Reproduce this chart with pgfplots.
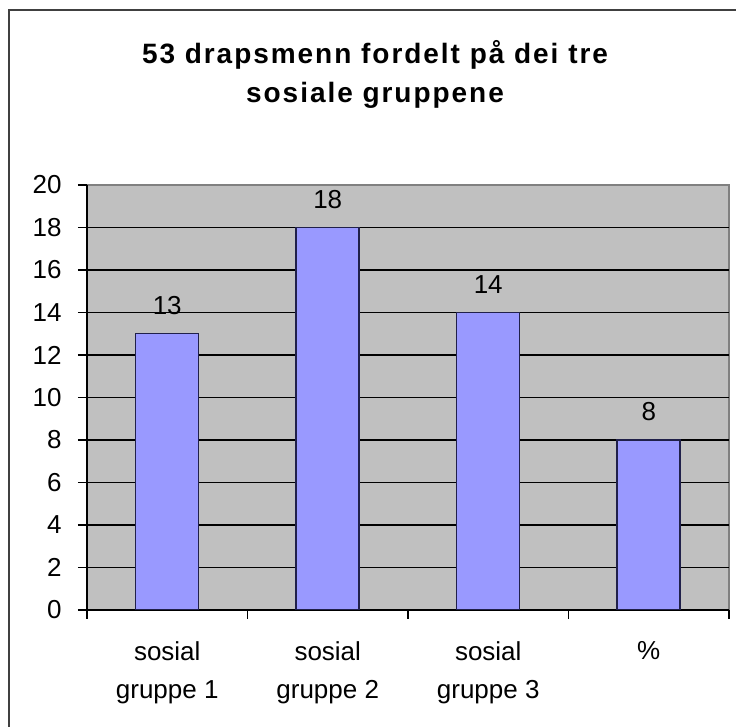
\documentclass[border=0pt]{standalone}
\usepackage{fontspec}
\setmainfont{Liberation Sans}
\usepackage{pgfplots}
\pgfplotsset{compat=1.18}
\definecolor{PlotGray}{HTML}{C0C0C0}
\definecolor{EdgeGray}{HTML}{808080}
\definecolor{BarFill}{HTML}{9999FF}
\definecolor{BarEdge}{HTML}{20204A}

\begin{document}
\begin{tikzpicture}[x=1pt,y=1pt]
\useasboundingbox (0,0) rectangle (368,363.5);
% outer chart frame (only left and top are inside the crop)
\draw[black!75,line width=1pt] (4.5,0) -- (4.5,358.5) -- (368,358.5);
\node[font=\bfseries\fontsize{14}{16}\selectfont,anchor=base] at (187.5,331.7)
  {\addfontfeatures{LetterSpace=7}53 drapsmenn fordelt på dei tre};
\node[font=\bfseries\fontsize{14}{16}\selectfont,anchor=base] at (187.5,312.2)
  {\addfontfeatures{LetterSpace=7}sosiale gruppene};

\begin{axis}[
  at={(43.5pt,58.5pt)}, anchor=south west,
  scale only axis, width=321pt, height=212.5pt,
  xmin=0.5, xmax=4.5, ymin=0, ymax=20,
  axis background/.style={fill=PlotGray,draw=EdgeGray,line width=.75pt},
  axis x line*=bottom, axis y line*=left,
  axis line style={black,line width=.75pt},
  tick pos=left, tick align=outside,
  major tick length=4.5pt,
  tick style={black,line width=.75pt},
  /pgf/number format/assume math mode=true,
  ytick={0,2,...,18},
  extra y ticks={20},
  extra y tick style={grid=none},
  ymajorgrids, grid style={black,line width=.75pt},
  yticklabel style={font=\fontsize{13}{16}\selectfont,anchor=east,inner sep=0pt,xshift=-8pt},
  xtick={0.5,1.5,2.5,3.5,4.5},
  x tick label as interval,
  xticklabels={{sosial\\gruppe 1},{sosial\\gruppe 2},{sosial\\gruppe 3},{\%}},
  xticklabel style={font=\fontsize{13}{19}\selectfont,align=center,anchor=north,inner sep=0pt,yshift=-11pt},
  ybar, bar width=31.5pt, bar shift=0pt,
  nodes near coords,
  nodes near coords style={font=\fontsize{13}{16}\selectfont,anchor=base,inner sep=0pt,yshift=9.5pt},
]
\addplot[fill=BarFill,draw=BarEdge,line width=.75pt] coordinates {
  (1,13) (2,18) (3,14) (4,8)};
\end{axis}
\end{tikzpicture}
\end{document}
